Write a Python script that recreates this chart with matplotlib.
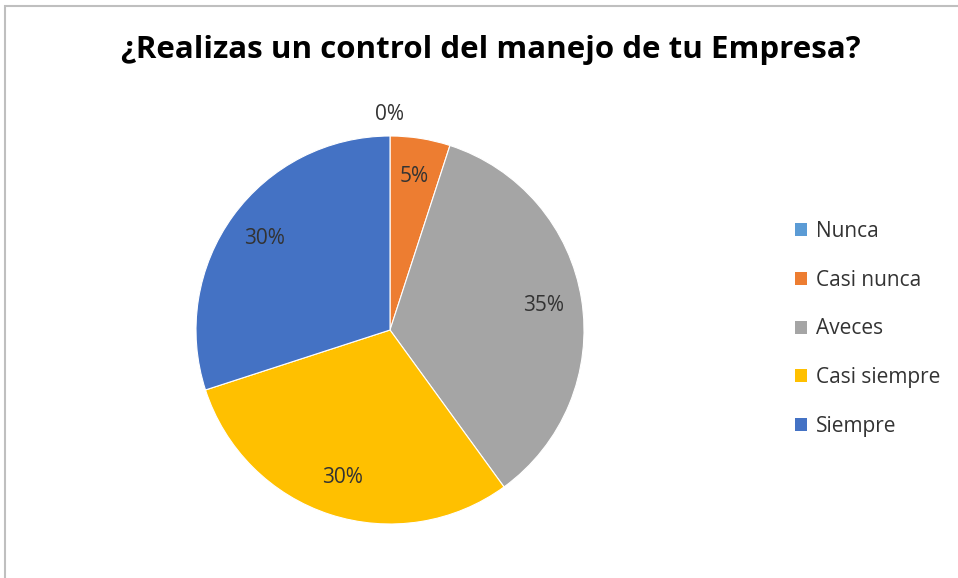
import matplotlib
matplotlib.use("Agg")
import matplotlib.pyplot as plt
import numpy as np
from matplotlib.patches import Rectangle

plt.rcParams['font.family'] = ['Open Sans', 'DejaVu Sans']

title = "¿Realizas un control del manejo de tu Empresa?"
categories = ["Nunca", "Casi nunca", "Aveces", "Casi siempre", "Siempre"]
values = [0, 5, 35, 30, 30]
colors = ["#5B9BD5", "#ED7D31", "#A5A5A5", "#FFC000", "#4472C4"]

W, H = 958, 578
fig = plt.figure(figsize=(W / 100, H / 100), dpi=100)

# thin gray frame (top/left visible, rest runs off the picture)
fig.patches.append(Rectangle((5 / W, -0.1), 1.2, (H - 6) / H + 0.1,
                             transform=fig.transFigure, fill=False,
                             edgecolor="#BFBFBF", linewidth=1.5))

# pie axes: center (390, 330), radius 194 px
cx, cy, r = 390, 330, 194
ax = fig.add_axes([(cx - r) / W, (H - cy - r) / H, 2 * r / W, 2 * r / H])
wedges, _ = ax.pie(values, colors=colors, startangle=90, counterclock=False,
                   radius=1, wedgeprops=dict(linewidth=0.8, edgecolor="white"))
ax.set_xlim(-1, 1)
ax.set_ylim(-1, 1)
ax.set_aspect("equal")
ax.axis("off")

# percentage labels
for w, v in zip(wedges, values):
    ang = np.deg2rad((w.theta1 + w.theta2) / 2)
    d = 1.11 if v == 0 else 0.8
    ax.text(d * np.cos(ang), d * np.sin(ang), f"{v}%", ha="center", va="center",
            fontsize=15, color="#333333", clip_on=False)

fig.text(491 / W, 1 - 50 / H, title, ha="center", va="center",
         fontsize=22.5, fontweight="bold", color="#000000")

handles = [plt.Rectangle((0, 0), 1, 1, facecolor=c) for c in colors]
fig.legend(handles, categories, loc="center left",
           bbox_to_anchor=(776 / W, 1 - 329 / H), frameon=False,
           fontsize=15, labelcolor="#333333", handlelength=0.6,
           handleheight=0.6, handletextpad=0.4, labelspacing=1.33)

fig.savefig("out.png", dpi=100)
